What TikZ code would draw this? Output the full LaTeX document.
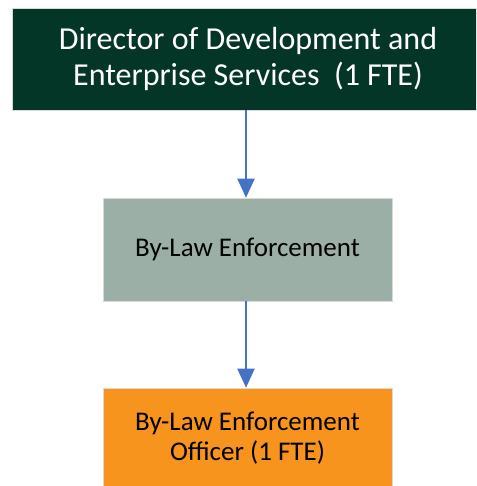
\documentclass[tikz,border=0pt]{standalone}
\usepackage{fontspec}
\setmainfont{Carlito}
\usetikzlibrary{arrows.meta}
\definecolor{topgreen}{RGB}{4,54,40}
\definecolor{midgray}{RGB}{155,175,166}
\definecolor{orgbox}{RGB}{247,148,30}
\definecolor{arrblue}{RGB}{68,114,196}
\begin{document}
\begin{tikzpicture}[x=1pt,y=-1pt,
  box/.style={rectangle, inner sep=0pt, align=center, draw=white!85!black, line width=0.6pt},
  conn/.style={arrblue, line width=2pt, -{Triangle[length=19pt,width=17pt]}}]
\useasboundingbox (0,0) rectangle (476,486);
\begin{scope}
\clip (0,0) rectangle (476,486);
\node[box, fill=topgreen, text=white, minimum width=472pt, minimum height=102pt,
  font=\fontsize{32}{36}\selectfont] (dir) at (248,59) {Director of Development and\\Enterprise Services\ \ (1 FTE)};
\node[box, fill=midgray, text=black, minimum width=289pt, minimum height=103pt,
  font=\fontsize{27}{30}\selectfont] (ble) at (247.5,249.5) {By-Law Enforcement};
\node[box, fill=orgbox, text=black, minimum width=289pt, minimum height=100pt,
  font=\fontsize{27}{30}\selectfont] (blo) at (247.5,438) {By-Law Enforcement\\Officer (1 FTE)};
\draw[conn] (dir.south -| 246,0) -- (ble.north -| 246,0);
\draw[conn] (ble.south -| 246,0) -- (blo.north -| 246,0);
\end{scope}
\end{tikzpicture}
\end{document}
